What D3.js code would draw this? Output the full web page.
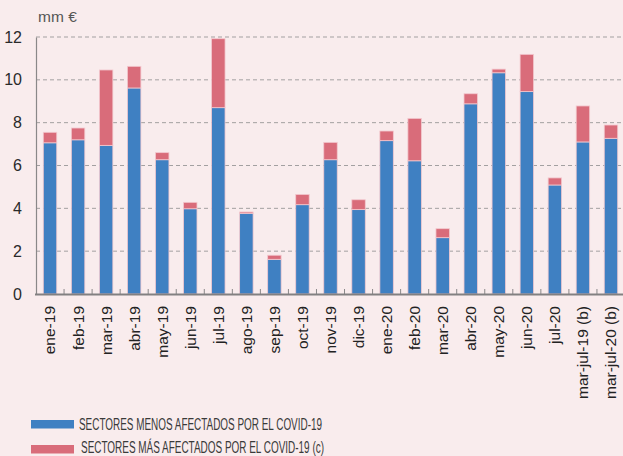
<!DOCTYPE html>
<html>
<head>
<meta charset="utf-8">
<script src="https://cdn.jsdelivr.net/npm/d3@7"></script>
<style>
  body { margin: 0; background: #f9eced; }
  svg { display: block; }
  text { font-family: "Liberation Sans", Arial, sans-serif; }
</style>
</head>
<body>
<div id="chart"></div>
<script>
// Data (mm €)
const categories = ["ene-19", "feb-19", "mar-19", "abr-19", "may-19", "jun-19", "jul-19",
    "ago-19", "sep-19", "oct-19", "nov-19", "dic-19", "ene-20", "feb-20", "mar-20",
    "abr-20", "may-20", "jun-20", "jul-20", "mar-jul-19 (b)", "mar-jul-20 (b)"];
const menosAfectados = [7.06, 7.20, 6.94, 9.62, 6.27, 3.98, 8.70, 3.77, 1.62, 4.17, 6.27,
    3.94, 7.16, 6.22, 2.63, 8.88, 10.33, 9.45, 5.09, 7.10, 7.27];
const masAfectados = [0.49, 0.55, 3.52, 1.01, 0.33, 0.30, 3.22, 0.06, 0.19, 0.48, 0.81,
    0.46, 0.45, 1.98, 0.42, 0.47, 0.17, 1.74, 0.33, 1.68, 0.62];
const yTicks = [0, 2, 4, 6, 8, 10, 12];
const seriesNames = ["SECTORES MENOS AFECTADOS POR EL COVID-19",
    "SECTORES MÁS AFECTADOS POR EL COVID-19 (c)"];
const colors = ["#3f80c2", "#d96c7a"];

const W = 623, H = 456;
const svg = d3.select("#chart").append("svg")
    .attr("width", W)
    .attr("height", H);

const x = d3.scaleBand()
    .domain(categories)
    .range([36, 625])
    .paddingInner(0.52)
    .paddingOuter(0.26);

const y = d3.scaleLinear()
    .domain([0, 12])
    .range([294, 37]);

// Gridlines
svg.append("g")
    .selectAll("line")
    .data(yTicks.filter(d => d > 0))
    .join("line")
    .attr("x1", 36)
    .attr("x2", W)
    .attr("y1", d => y(d))
    .attr("y2", d => y(d))
    .attr("stroke", "#a3a0a1")
    .attr("stroke-width", 1)
    .attr("stroke-dasharray", "4,3");

// Stack the two series
const rows = categories.map((c, i) => ({ cat: c, menos: menosAfectados[i], mas: masAfectados[i] }));
const stacked = d3.stack().keys(["menos", "mas"])(rows);

svg.append("g")
    .selectAll("g")
    .data(stacked)
    .join("g")
    .attr("fill", (d, i) => colors[i])
    .selectAll("rect")
    .data(d => d)
    .join("rect")
    .attr("x", d => x(d.data.cat))
    .attr("y", d => y(d[1]))
    .attr("width", x.bandwidth())
    .attr("height", d => y(d[0]) - y(d[1]))
    .attr("stroke", "#f3c9cf")
    .attr("stroke-width", 0.8);

// Y axis
const yAxis = svg.append("g")
    .attr("transform", "translate(36,0)")
    .call(d3.axisLeft(y).tickValues(yTicks).tickSize(0).tickPadding(14));
yAxis.select(".domain").attr("stroke", "#8a8889").attr("stroke-width", 1.2);
yAxis.selectAll("text")
    .style("font-size", "16px")
    .attr("fill", "#2a2a2a");

// X axis: ticks sit between bars, pointing up
const half = (x.step() - x.bandwidth()) / 2;
svg.append("g")
    .selectAll("line")
    .data(categories.slice(1))
    .join("line")
    .attr("x1", d => x(d) - half)
    .attr("x2", d => x(d) - half)
    .attr("y1", 294)
    .attr("y2", 289)
    .attr("stroke", "#8a8889")
    .attr("stroke-width", 1);

svg.append("line")
    .attr("x1", 35)
    .attr("x2", W)
    .attr("y1", 294.5)
    .attr("y2", 294.5)
    .attr("stroke", "#828081")
    .attr("stroke-width", 2.2);

svg.append("g")
    .selectAll("text")
    .data(categories)
    .join("text")
    .attr("transform", d => `translate(${x(d) + x.bandwidth() / 2},306) rotate(-90)`)
    .attr("text-anchor", "end")
    .attr("dy", "0.35em")
    .style("font-size", "15.5px")
    .attr("fill", "#222")
    .text(d => d);

// Unit label
svg.append("text")
    .attr("x", 38)
    .attr("y", 22)
    .style("font-size", "15.5px")
    .attr("fill", "#555")
    .text("mm €");

// Legend
const legendY = [420, 445];
seriesNames.forEach((name, i) => {
    svg.append("rect")
        .attr("x", 31)
        .attr("y", legendY[i])
        .attr("width", 43)
        .attr("height", 8.5)
        .attr("fill", colors[i]);
    svg.append("text")
        .attr("x", i === 0 ? 79 : 81)
        .attr("y", i === 0 ? 430 : 453)
        .style("font-family", "'Liberation Sans Narrow', 'Arial Narrow', sans-serif")
        .style("font-size", "16px")
        .attr("fill", "#3a3a3a")
        .attr("textLength", 243)
        .attr("lengthAdjust", "spacingAndGlyphs")
        .text(name);
});
</script>
</body>
</html>
